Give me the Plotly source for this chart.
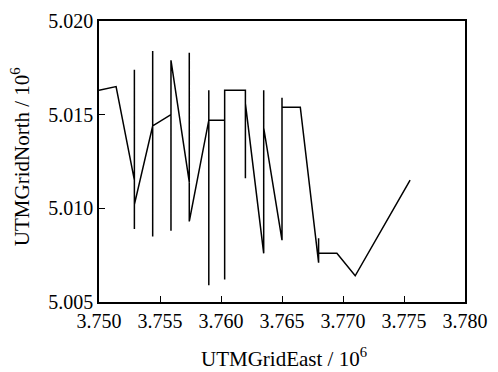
import plotly.graph_objects as go

# Track coordinates (units of 10^6 m)
east = [3.7500, 3.7514, 3.7529, 3.7529, 3.7529, 3.7529, 3.7544, 3.7544, 3.7544, 3.7544,
        3.7559, 3.7559, 3.7559, 3.7559, 3.7574, 3.7574, 3.7574, 3.7590, 3.7590, 3.7590,
        3.7590, 3.7603, 3.7603, 3.7603, 3.7620, 3.7620, 3.7620, 3.7635, 3.7635, 3.7635,
        3.7650, 3.7650, 3.7650, 3.7665, 3.7680, 3.7680, 3.7680, 3.7695, 3.7710, 3.7755]
north = [5.0163, 5.0165, 5.0115, 5.0174, 5.0089, 5.0102, 5.0144, 5.0184, 5.0085, 5.0144,
         5.0150, 5.0179, 5.0088, 5.0179, 5.0114, 5.0183, 5.0093, 5.0147, 5.0163, 5.0059,
         5.0147, 5.0147, 5.0062, 5.0163, 5.0163, 5.0116, 5.0156, 5.0076, 5.0163, 5.0143,
         5.0083, 5.0159, 5.0154, 5.0154, 5.0071, 5.0084, 5.0076, 5.0076, 5.0064, 5.0115]

x_ticks = [3.750, 3.755, 3.760, 3.765, 3.770, 3.775, 3.780]
y_ticks = [5.005, 5.010, 5.015, 5.020]

font = dict(family="Liberation Serif, Times New Roman, serif", size=20, color="black")
title_font = dict(font, size=21)

fig = go.Figure(go.Scatter(
    x=east, y=north, mode="lines",
    line=dict(color="black", width=1.5),
    showlegend=False,
))

axis_common = dict(
    showgrid=False, zeroline=False, showline=True, linecolor="black", linewidth=1.5,
    mirror=True, ticks="inside", ticklen=6, tickwidth=1.2, tickcolor="black",
    tickfont=font,
)

fig.update_xaxes(range=[3.750, 3.780], tickvals=x_ticks,
                 ticktext=[f"{v:.3f}" for v in x_ticks], **axis_common)
fig.update_yaxes(range=[5.005, 5.020], tickvals=y_ticks,
                 ticktext=[f"{v:.3f}" for v in y_ticks], **axis_common)

fig.add_annotation(text="UTMGridEast / 10<sup>6</sup>", xref="paper", yref="paper",
                   x=0.505, y=-0.199, xanchor="center", yanchor="middle",
                   showarrow=False, font=title_font)
fig.add_annotation(text="UTMGridNorth / 10<sup>6</sup>", xref="paper", yref="paper",
                   x=-0.2147, y=0.517, xanchor="center", yanchor="middle",
                   textangle=-90, showarrow=False, font=title_font)

fig.update_layout(
    width=498, height=372,
    margin=dict(l=99, r=31, t=10, b=70),
    paper_bgcolor="white", plot_bgcolor="white",
    font=font,
)

fig.write_html("out.html")
